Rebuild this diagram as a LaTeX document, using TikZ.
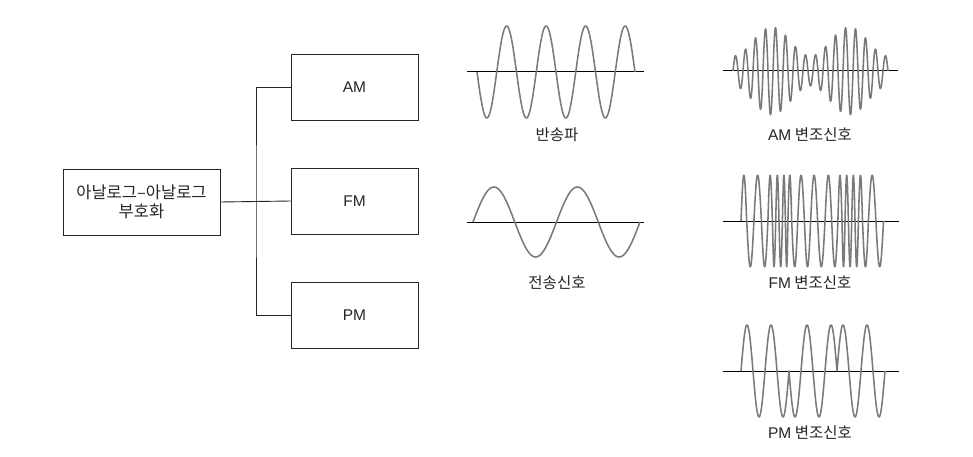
\documentclass[tikz,border=0pt]{standalone}
\usepackage{fontspec}
\setmainfont{Noto Sans CJK KR}
\newfontfamily\lat{Liberation Sans}
\begin{document}
\begin{tikzpicture}[x=1pt,y=-1pt,
  box/.style={draw=black!85,line width=0.9pt,minimum width=127pt,minimum height=66pt,inner sep=0pt,font=\lat\fontsize{15.5}{19.5}\selectfont,text=black!85},
  conn/.style={draw=black!85,line width=0.9pt},
  axisline/.style={draw=black,line width=1pt},
  wave/.style={draw=black!52,line width=1.55pt,line join=round},
  lbl/.style={font=\fontsize{15.5}{18}\selectfont,text=black!85,inner sep=0pt}]
\fill[white] (0,0) rectangle (973,457);
\useasboundingbox (0,0) rectangle (973,457);

% block diagram
\node[box,minimum width=157pt,align=center,font=\fontsize{16.5}{19.5}\selectfont] (L) at (141.5,202) {아날로그–아날로그\\부호화};
\node[box] (AM) at (354.5,87) {AM};
\node[box] (FM) at (354.5,201) {FM};
\node[box] (PM) at (354.5,315.5) {PM};
\coordinate (j) at (256,201.5);
\draw[conn] (L.east) -- (FM.west);
\draw[conn] (AM.west) -| (j) |- (PM.west);

% carrier
\draw[axisline] (467,72) coordinate (ca1) -- (644,72) coordinate (ca2);
\begin{scope}[shift={(477,72)}]
\draw[wave] plot[domain=0:158,samples=220] (\x,{46*sin(9.1139*\x)});
\end{scope}
\node[lbl] (carrier) at (557,135) {반송파};

% transmission signal
\draw[axisline] (467,222) coordinate (ta1) -- (644,222) coordinate (ta2);
\begin{scope}[shift={(473,222)}]
\draw[wave] plot[domain=0:167,samples=160] (\x,{-35*sin(4.3114*\x)});
\end{scope}
\node[lbl] (trans) at (557,283) {전송신호};

% AM
\draw[axisline] (723,71) coordinate (aa1) -- (898,71) coordinate (aa2);
\begin{scope}[shift={(733,71)}]
\draw[wave] plot[domain=0:155,samples=420] (\x,{-(29.5-14.5*cos(4.6452*\x))*sin(36*\x)});
\end{scope}
\node[lbl] (amlbl) at (810,135) {{\lat AM} 변조신호};

% FM
\draw[axisline] (723,221) coordinate (fa1) -- (899,221) coordinate (fa2);
\begin{scope}[shift={(0,221)}]
\draw[wave] (741,0) foreach \a/\b/\s in {
  741/746.7/-1, 746.7/753.9/1, 753.9/761.4/-1, 761.4/767.9/1,
  767.9/772.4/-1, 772.4/775.7/1, 775.7/779/-1, 779/782.4/1,
  782.4/785.4/-1, 785.4/787.9/1, 787.9/791.7/-1, 791.7/797.7/1,
  797.7/804.4/-1, 804.4/810.6/1, 810.6/817.6/-1, 817.6/825/1,
  825/831.7/-1, 831.7/837.9/1, 837.9/842/-1, 842/845/1,
  845/848.4/-1, 848.4/851.7/1, 851.7/855/-1, 855/858.4/1,
  858.4/862.5/-1, 862.5/868.4/1, 868.4/875.9/-1, 875.9/883.5/1}{
  -- plot[domain=\a:\b,samples=14] (\x,{\s*46*sin(180*(\x-\a)/(\b-\a))}) };
\end{scope}
\node[lbl] (fmlbl) at (810,283) {{\lat FM} 변조신호};

% PM
\draw[axisline] (723,371) coordinate (pa1) -- (899,371) coordinate (pa2);
\begin{scope}[shift={(741,371)}]
\draw[wave] (0,0) foreach \i/\s in {0/-1,1/1,2/-1,3/1,4/1,5/-1,6/1,7/-1,8/-1,9/1,10/-1,11/1}{
  -- plot[domain=0:12,samples=25] ({\i*12+\x},{\s*46*sin(15*\x)}) };
\end{scope}
\node[lbl] (pmlbl) at (810,433) {{\lat PM} 변조신호};
\end{tikzpicture}
\end{document}
